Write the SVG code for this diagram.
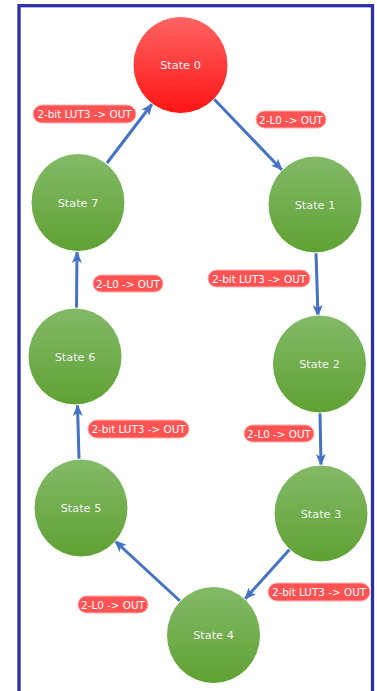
<svg xmlns="http://www.w3.org/2000/svg" width="377" height="691" viewBox="0 0 377 691">
<defs>
<linearGradient id="gGreen" x1="0" y1="0" x2="0" y2="1">
<stop offset="0" stop-color="#84ba68"/>
<stop offset="1" stop-color="#5fa133"/>
</linearGradient>
<linearGradient id="gRed" x1="0" y1="0" x2="0" y2="1">
<stop offset="0" stop-color="#ff6464"/>
<stop offset="1" stop-color="#ff1414"/>
</linearGradient>
<marker id="arr" markerUnits="userSpaceOnUse" markerWidth="12" markerHeight="10" refX="11" refY="5" orient="auto">
<path d="M0,0 L12,5 L0,10 L3,5 Z" fill="#4472c4"/>
</marker>
</defs>
<style>
.node ellipse{stroke:#ffffff;stroke-width:1}
.node text{font-family:"DejaVu Sans",Verdana,sans-serif;font-size:11.3px;fill:#f2f2f2;text-anchor:middle;dominant-baseline:central}
.lbl rect{fill:#ff5353;stroke:#ffb0b0;stroke-width:1}
.lbl text{font-family:"DejaVu Sans",Verdana,sans-serif;font-size:10.4px;fill:#ffffff;text-anchor:middle;dominant-baseline:central}
.edge{stroke:#4472c4;stroke-width:3;fill:none;marker-end:url(#arr)}
</style>
<rect x="0" y="0" width="377" height="691" fill="#ffffff"/>
<rect x="19" y="5.7" width="353.5" height="700" fill="none" stroke="#2c30a8" stroke-width="3.3"/>
<g id="connectors">
<line class="edge" x1="107" y1="163" x2="152" y2="104"/>
<line class="edge" x1="213" y1="98" x2="282" y2="170"/>
<line class="edge" x1="316" y1="253" x2="318" y2="316"/>
<line class="edge" x1="320" y1="413" x2="321" y2="465"/>
<line class="edge" x1="290" y1="549" x2="245" y2="599"/>
<line class="edge" x1="180" y1="601" x2="115" y2="541"/>
<line class="edge" x1="79" y1="459" x2="77.5" y2="405"/>
<line class="edge" x1="76.5" y1="308" x2="77" y2="252"/>
</g>
<g id="labels">
<g class="lbl"><rect x="33" y="105" width="103" height="18" rx="9"/><text x="84.5" y="114">2-bit LUT3 -&gt; OUT</text></g>
<g class="lbl"><rect x="256" y="111" width="70" height="17" rx="8.5"/><text x="291" y="119.5">2-L0 -&gt; OUT</text></g>
<g class="lbl"><rect x="93" y="275" width="70" height="17" rx="8.5"/><text x="128" y="283.5">2-L0 -&gt; OUT</text></g>
<g class="lbl"><rect x="208" y="270" width="102" height="17" rx="8.5"/><text x="259" y="278.5">2-bit LUT3 -&gt; OUT</text></g>
<g class="lbl"><rect x="88" y="420" width="101" height="18" rx="9"/><text x="138.5" y="429">2-bit LUT3 -&gt; OUT</text></g>
<g class="lbl"><rect x="244" y="425" width="70" height="17" rx="8.5"/><text x="279" y="433.5">2-L0 -&gt; OUT</text></g>
<g class="lbl"><rect x="78" y="596" width="70" height="17" rx="8.5"/><text x="113" y="604.5">2-L0 -&gt; OUT</text></g>
<g class="lbl"><rect x="268" y="583" width="102" height="18" rx="9"/><text x="319" y="592">2-bit LUT3 -&gt; OUT</text></g>
</g>
<g id="state0" class="node"><ellipse cx="180.5" cy="65" rx="47.5" ry="48.5" fill="url(#gRed)"/><text x="180.5" y="65">State 0</text></g>
<g id="state1" class="node"><ellipse cx="315" cy="204.5" rx="47" ry="48.5" fill="url(#gGreen)"/><text x="315" y="205">State 1</text></g>
<g id="state2" class="node"><ellipse cx="319.5" cy="364" rx="47" ry="49" fill="url(#gGreen)"/><text x="319.5" y="364">State 2</text></g>
<g id="state3" class="node"><ellipse cx="321" cy="513.5" rx="47" ry="48.5" fill="url(#gGreen)"/><text x="321" y="514">State 3</text></g>
<g id="state4" class="node"><ellipse cx="213.5" cy="635" rx="47" ry="48.5" fill="url(#gGreen)"/><text x="213.5" y="635">State 4</text></g>
<g id="state5" class="node"><ellipse cx="81" cy="508" rx="47" ry="49" fill="url(#gGreen)"/><text x="81" y="508">State 5</text></g>
<g id="state6" class="node"><ellipse cx="75" cy="356.5" rx="47" ry="48.5" fill="url(#gGreen)"/><text x="75" y="357">State 6</text></g>
<g id="state7" class="node"><ellipse cx="78" cy="202.5" rx="47" ry="49" fill="url(#gGreen)"/><text x="78" y="203">State 7</text></g>
</svg>
